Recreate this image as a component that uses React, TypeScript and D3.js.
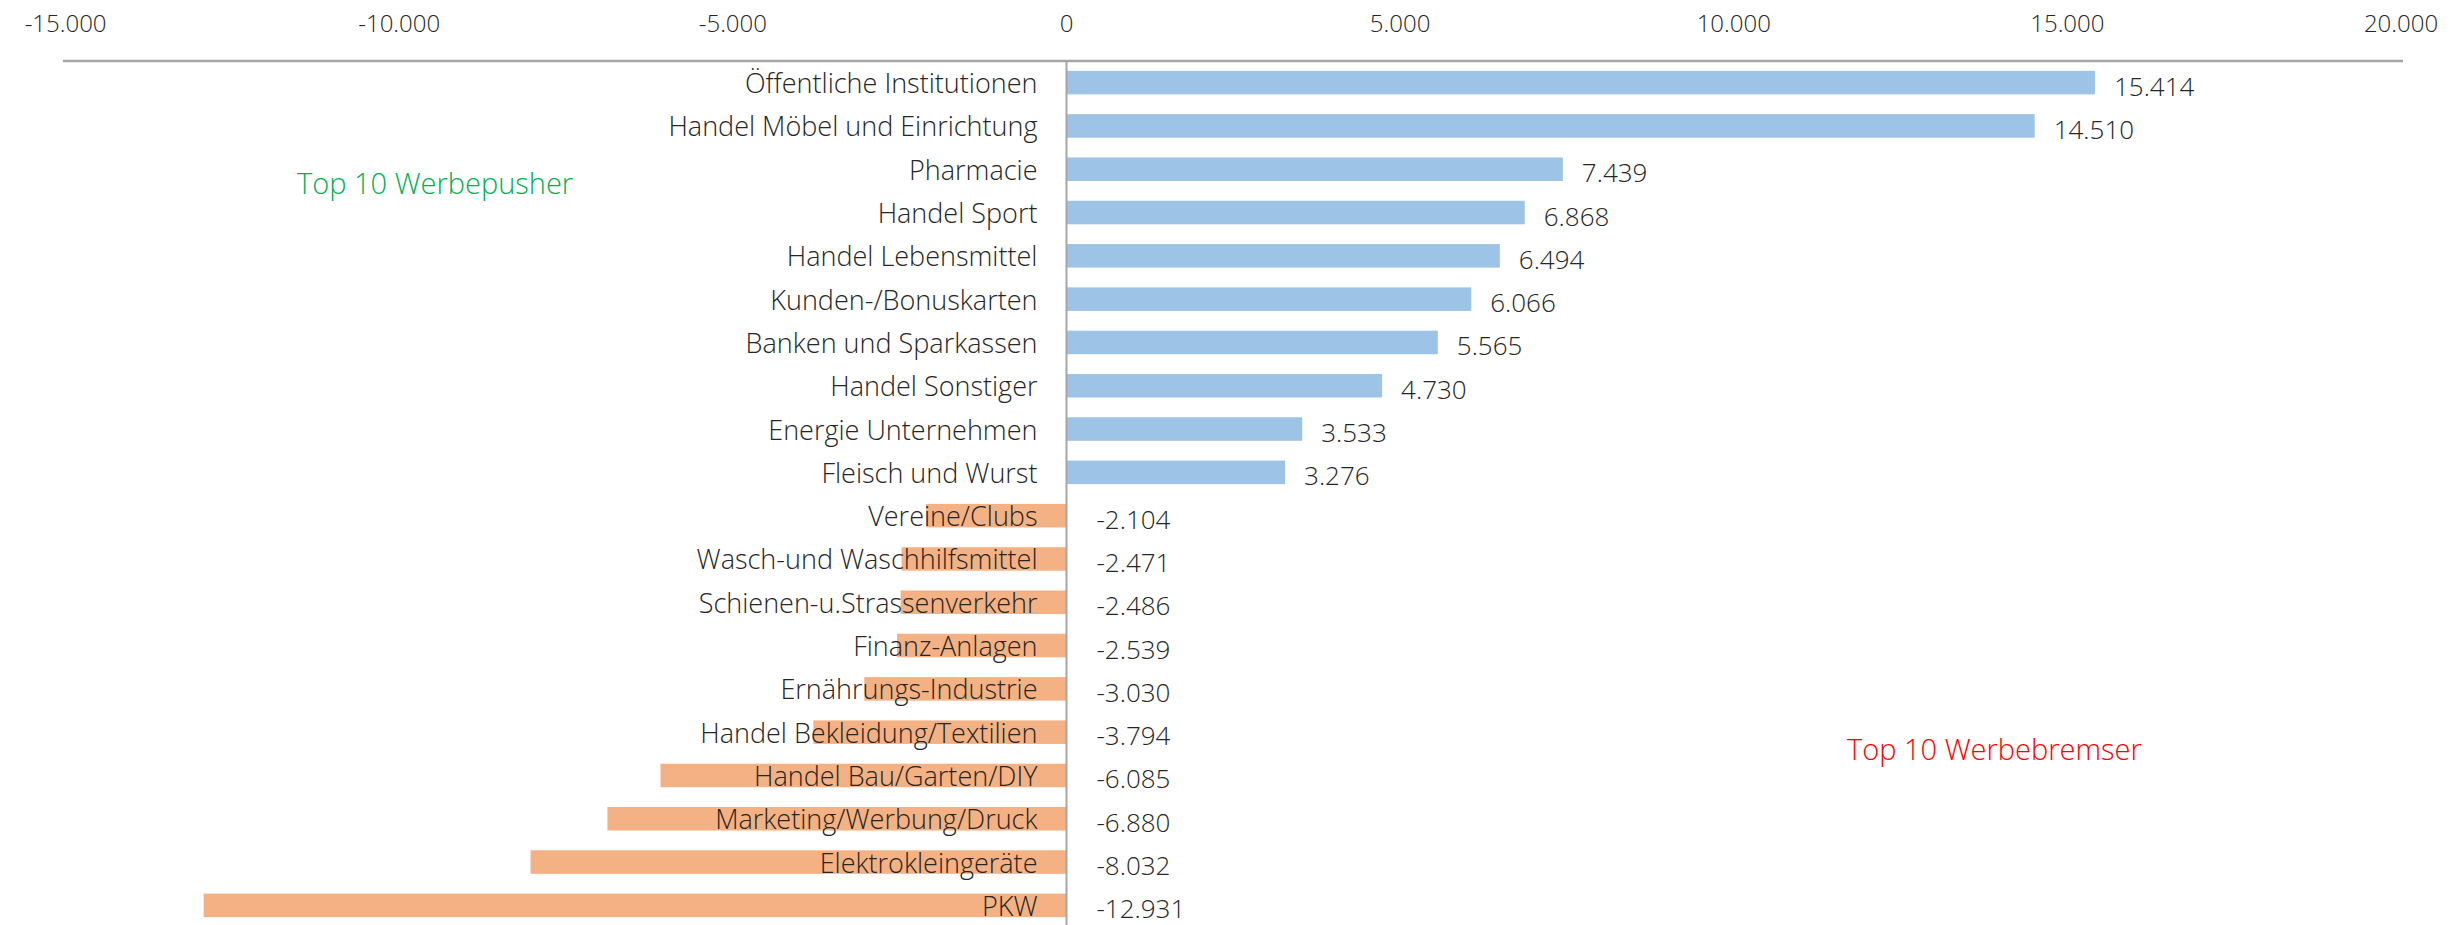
import React from "react";
import * as d3 from "d3";

// Werbeausgaben-Veränderung nach Branchen (Top 10 Pusher / Bremser)
const categories: string[] = [
  "Öffentliche Institutionen",
  "Handel Möbel und Einrichtung",
  "Pharmacie",
  "Handel Sport",
  "Handel Lebensmittel",
  "Kunden-/Bonuskarten",
  "Banken und Sparkassen",
  "Handel Sonstiger",
  "Energie Unternehmen",
  "Fleisch und Wurst",
  "Vereine/Clubs",
  "Wasch-und Waschhilfsmittel",
  "Schienen-u.Strassenverkehr",
  "Finanz-Anlagen",
  "Ernährungs-Industrie",
  "Handel Bekleidung/Textilien",
  "Handel Bau/Garten/DIY",
  "Marketing/Werbung/Druck",
  "Elektrokleingeräte",
  "PKW",
];

const values: number[] = [
  15414, 14510, 7439, 6868, 6494, 6066, 5565, 4730, 3533, 3276,
  -2104, -2471, -2486, -2539, -3030, -3794, -6085, -6880, -8032, -12931,
];

const tickValues: number[] = [-15000, -10000, -5000, 0, 5000, 10000, 15000, 20000];

const W = 2463;
const H = 925;
const FONT = "'Open Sans', 'Noto Sans', sans-serif";
const TEXT = "#262626";

const fmt = (v: number) =>
  (v < 0 ? "-" : "") + d3.format(",")(Math.abs(v)).replace(/,/g, ".");

export default function App() {
  const x = d3.scaleLinear().domain([-15000, 20000]).range([65.6, 2401]);
  const y = d3
    .scaleBand<string>()
    .domain(categories)
    .range([61, 927])
    .paddingInner(0.457)
    .paddingOuter(0.228);

  const x0 = x(0);
  const bh = y.bandwidth();

  return (
    <svg
      width={W}
      height={H}
      style={{ position: "absolute", left: 0, top: 0, background: "#fff" }}
      fontFamily={FONT}
    >
      {/* top value axis */}
      {tickValues.map((t) => (
        <text
          key={t}
          x={x(t)}
          y={22}
          textAnchor="middle"
          dominantBaseline="central"
          fontSize={24}
          fontWeight={300}
          fill={TEXT}
        >
          {fmt(t)}
        </text>
      ))}
      <line x1={63} x2={2403} y1={61} y2={61} stroke="#a6a6a6" strokeWidth={2.5} />

      {/* bars */}
      {categories.map((c, i) => {
        const v = values[i];
        return (
          <rect
            key={c}
            x={Math.min(x(v), x0)}
            y={y(c)}
            width={Math.abs(x(v) - x0)}
            height={bh}
            fill={v >= 0 ? "#9dc3e6" : "#f4b183"}
          />
        );
      })}

      {/* zero line */}
      <line x1={x0} x2={x0} y1={61} y2={H} stroke="#a6a6a6" strokeWidth={2} />

      {/* category labels and values */}
      {categories.map((c, i) => {
        const v = values[i];
        const yc = (y(c) as number) + bh / 2;
        return (
          <g key={c + "-t"}>
            <text
              x={x0 - 29}
              y={yc}
              textAnchor="end"
              dominantBaseline="central"
              fontSize={27}
              fontWeight={300}
              fill={TEXT}
            >
              {c}
            </text>
            <text
              x={v >= 0 ? x(v) + 19 : x0 + 30}
              y={yc + 3}
              textAnchor="start"
              dominantBaseline="central"
              fontSize={26}
              fontWeight={300}
              fill={TEXT}
            >
              {fmt(v)}
            </text>
          </g>
        );
      })}

      {/* group annotations */}
      <text x={297} y={182} dominantBaseline="central" fontSize={29} fontWeight={300} fill="#00b050">
        Top 10 Werbepusher
      </text>
      <text x={1847} y={748} dominantBaseline="central" fontSize={29} fontWeight={300} fill="#ff0000">
        Top 10 Werbebremser
      </text>
    </svg>
  );
}
